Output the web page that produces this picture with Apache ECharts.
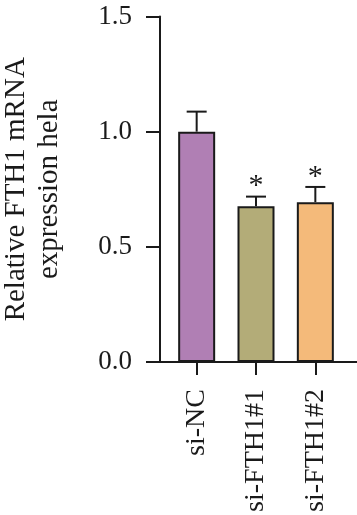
<!DOCTYPE html>
<html>
<head>
<meta charset="utf-8">
<script src="https://cdn.jsdelivr.net/npm/echarts@6/dist/echarts.min.js"></script>
<style>
  html, body { margin: 0; padding: 0; background: #fff; }
  #chart { width: 357px; height: 515px; }
</style>
</head>
<body>
<div id="chart"></div>
<script>
// data
const groups = ['si-NC', 'si-FTH1#1', 'si-FTH1#2'];
const means = [1.0, 0.676, 0.694];
const errors = [0.087, 0.042, 0.066];
const marks = ['', '*', '*'];
const colors = ['#B07FB4', '#B3AC78', '#F4BA7A'];
const yTicks = [0, 0.5, 1.0, 1.5];

const font = "'Liberation Serif', 'Times New Roman', serif";
const ink = '#1a1a1a';

const chart = echarts.init(document.getElementById('chart'));

const option = {
  animation: false,
  grid: [
    { left: 160, right: 0, top: 16.5, bottom: 153, outerBoundsMode: 'none' },
    { left: 167, width: 178, top: 16.5, bottom: 153, outerBoundsMode: 'none' }
  ],
  xAxis: [
    {
      gridIndex: 0, type: 'value', min: 0, max: 1,
      axisLine: { show: true, lineStyle: { color: ink, width: 2 } },
      axisTick: { show: false }, axisLabel: { show: false }, splitLine: { show: false }
    },
    {
      gridIndex: 1, type: 'category', data: groups,
      axisLine: { show: false },
      axisTick: { show: true, alignWithLabel: true, length: 13, lineStyle: { color: ink, width: 2 } },
      axisLabel: { rotate: 90, margin: 27, fontFamily: font, fontSize: 28, color: ink }
    }
  ],
  yAxis: [
    {
      gridIndex: 0, type: 'value', min: 0, max: 1.5, interval: 0.5,
      axisLine: { show: true, lineStyle: { color: ink, width: 2 } },
      axisTick: { show: true, length: 14, lineStyle: { color: ink, width: 2 } },
      axisLabel: {
        margin: 28, fontFamily: font, fontSize: 27, color: ink,
        formatter: v => yTicks.includes(v) ? v.toFixed(1) : ''
      },
      splitLine: { show: false },
      name: 'Relative FTH1 mRNA\nexpression hela',
      nameLocation: 'middle', nameRotate: 90, nameGap: 94,
      nameTextStyle: { fontFamily: font, fontSize: 29, color: ink, lineHeight: 33 }
    },
    {
      gridIndex: 1, type: 'value', min: 0, max: 1.5, show: false
    }
  ],
  series: [
    {
      type: 'bar', xAxisIndex: 1, yAxisIndex: 1, barWidth: 37,
      data: means.map((v, i) => ({ value: v, itemStyle: { color: colors[i] } })),
      itemStyle: { borderColor: ink, borderWidth: 2 },
      z: 2
    },
    {
      type: 'custom', xAxisIndex: 1, yAxisIndex: 1, z: 3,
      data: means.map((v, i) => [i, v, v + errors[i]]),
      renderItem: function (params, api) {
        const i = api.value(0);
        const base = api.coord([i, api.value(1)]);
        const top = api.coord([i, api.value(2)]);
        const half = 10;
        const children = [
          { type: 'line', shape: { x1: base[0], y1: base[1], x2: top[0], y2: top[1] },
            style: { stroke: ink, lineWidth: 2 } },
          { type: 'line', shape: { x1: top[0] - half, y1: top[1], x2: top[0] + half, y2: top[1] },
            style: { stroke: ink, lineWidth: 2 } }
        ];
        if (marks[i]) {
          children.push({
            type: 'text',
            style: {
              text: marks[i], x: top[0], y: top[1] - 10,
              align: 'center', verticalAlign: 'middle',
              font: '30px ' + font, fill: ink
            }
          });
        }
        return { type: 'group', children: children };
      }
    }
  ]
};

chart.setOption(option);
</script>
</body>
</html>
